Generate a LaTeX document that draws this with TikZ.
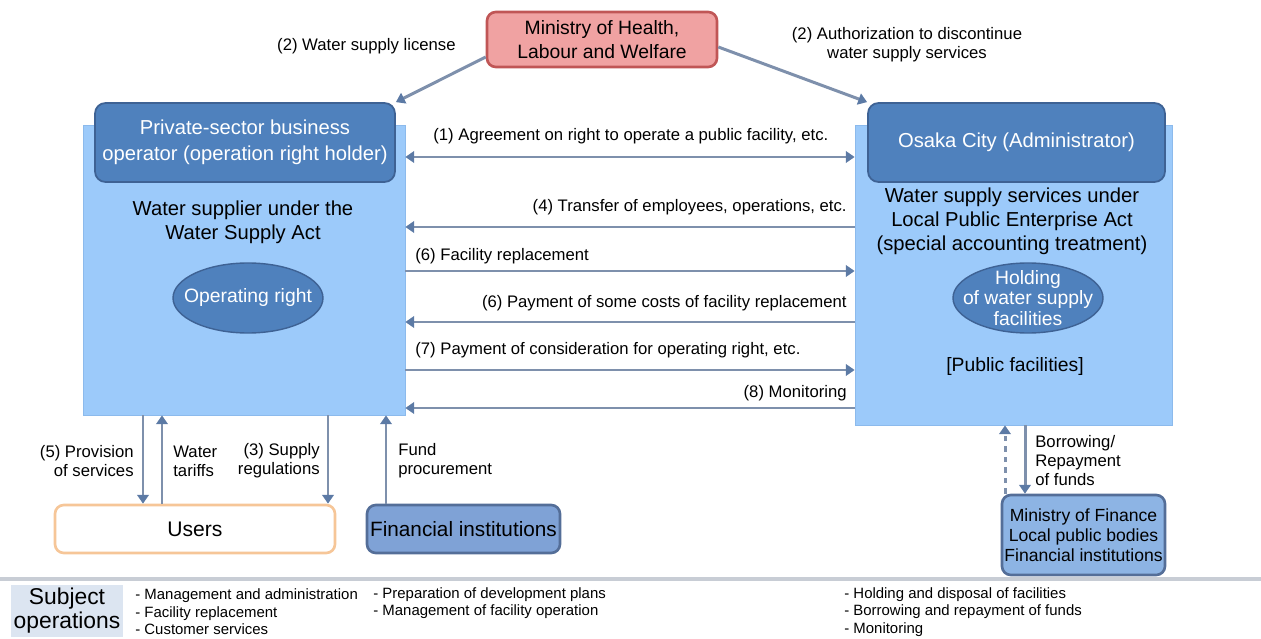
\documentclass[tikz,border=0pt]{standalone}
\usepackage{fontspec}
\setmainfont{Liberation Sans}
\usetikzlibrary{arrows.meta,shapes.geometric,positioning}
\definecolor{linec}{RGB}{126,144,172}
\definecolor{tipc}{RGB}{92,122,165}
\definecolor{boxfill}{RGB}{156,202,250}
\definecolor{boxline}{RGB}{140,186,236}
\definecolor{headfill}{RGB}{79,129,189}
\definecolor{headline}{RGB}{62,98,148}
\definecolor{mhlwfill}{RGB}{240,162,162}
\definecolor{mhlwline}{RGB}{192,86,86}
\definecolor{userline}{RGB}{246,198,152}
\definecolor{finfill}{RGB}{127,162,214}
\definecolor{mofill}{RGB}{141,180,228}
\definecolor{finline}{RGB}{84,110,152}
\definecolor{subjfill}{RGB}{220,229,241}
\definecolor{sepc}{RGB}{200,205,213}
\begin{document}
\begin{tikzpicture}[x=0.2mm,y=-0.2mm,
  conn/.style={draw=linec,line width=1.7pt,-{Triangle[width=6.5pt,length=5pt,color=tipc]}},
  both/.style={draw=linec,line width=1.7pt,{Triangle[width=6.5pt,length=5pt,color=tipc]}-{Triangle[width=6.5pt,length=5pt,color=tipc]}},
  lbl/.style={inner sep=0pt,font=\fontsize{9.5}{10.8}\selectfont},
  bigbox/.style={draw=boxline,fill=boxfill,inner sep=0pt},
  head/.style={draw=headline,fill=headfill,rounded corners=6pt,line width=1pt,text=white,align=center,inner sep=0pt,font=\fontsize{11.5}{14.5}\selectfont},
  oval/.style={ellipse,draw=headline,fill=headfill,line width=0.8pt,inner sep=0pt},
  ovaltext/.style={text=white,align=center,inner sep=0pt,font=\fontsize{11}{11.6}\selectfont},
  body/.style={align=center,inner sep=0pt,font=\fontsize{11.5}{13.7}\selectfont},
  endbox/.style={rounded corners=5pt,line width=1.5pt,inner sep=0pt,align=center},
  lst/.style={inner sep=0pt,align=left,font=\fontsize{8.5}{10}\selectfont}
]
\useasboundingbox (0,0) rectangle (1261,639);

\node[endbox,draw=mhlwline,fill=mhlwfill,minimum width=46mm,minimum height=11mm,font=\fontsize{11}{13.7}\selectfont] (mhlw) at (602,39.5) {Ministry of Health,\\Labour and Welfare};

\node[bigbox,minimum width=64.4mm,minimum height=58mm] (lbox) at (244,270) {};
\node[head,minimum width=60mm,minimum height=15.8mm] (lhead) at (245,142.5) {Private-sector business\\operator (operation right holder)};
\node[body] (ltext) at (243,222) {Water supplier under the\\Water Supply Act};
\node[oval,minimum width=30mm,minimum height=14mm] (opright) at (248,298) {};
\node[ovaltext] at (opright) {Operating right};

\node[bigbox,minimum width=63.4mm,minimum height=60mm] (rbox) at (1013.5,275) {};
\node[head,minimum width=59.4mm,minimum height=15.8mm] (rhead) at (1016.5,142.5) {Osaka City (Administrator)};
\node[body] (rtext) at (1012,221) {Water supply services under\\Local Public Enterprise Act\\(special accounting treatment)};
\node[oval,minimum width=30mm,minimum height=14mm] (holding) at (1028,298) {};
\node[ovaltext] at (holding) {Holding\\of water supply\\facilities};
\node[body,font=\fontsize{11}{13}\selectfont] (pubfac) at (1015,367) {[Public facilities]};

\node[endbox,draw=userline,fill=white,minimum width=56mm,minimum height=9.6mm,font=\fontsize{12}{14}\selectfont] (users) at (195,529) {Users};
\node[endbox,draw=finline,fill=finfill,minimum width=38.6mm,minimum height=9.6mm,font=\fontsize{11.8}{14}\selectfont] (fininst) at (463.5,529) {Financial institutions};
\node[endbox,draw=finline,fill=mofill,minimum width=32.6mm,minimum height=16mm,font=\fontsize{10}{11.4}\selectfont] (mof) at (1083.5,535) {Ministry of Finance\\Local public bodies\\Financial institutions};

\draw[conn] (mhlw.west |- 0,57) -- (lhead.north east);
\draw[conn] (mhlw.east |- 0,47) -- (rhead.north west);

\draw[both] (lbox.east |- 0,157) -- (rbox.west |- 0,157);
\draw[conn] (rbox.west |- 0,227) -- (lbox.east |- 0,227);
\draw[conn] (lbox.east |- 0,271) -- (rbox.west |- 0,271);
\draw[conn] (rbox.west |- 0,322) -- (lbox.east |- 0,322);
\draw[conn] (lbox.east |- 0,370) -- (rbox.west |- 0,370);
\draw[conn] (rbox.west |- 0,408) -- (lbox.east |- 0,408);

\draw[conn] (lbox.south -| 143,0) -- (users.north -| 143,0);
\draw[conn] (users.north -| 162,0) -- (lbox.south -| 162,0);
\draw[conn] (lbox.south -| 328,0) -- (users.north -| 328,0);
\draw[conn] (fininst.north -| 386,0) -- (lbox.south -| 386,0);
\draw[conn,dashed] (mof.north -| 1005,0) -- (rbox.south -| 1005,0);
\draw[conn] (rbox.south -| 1025,0) -- (mof.north -| 1025,0);

\node[lbl,anchor=east] (liclbl) at (456,46) {(2) Water supply license};
\node[lbl,align=center] (authlbl) at (907,45) {(2) Authorization to discontinue\\water supply services};
\node[lbl,anchor=west] (agrlbl) at (433,136) {(1) Agreement on right to operate a public facility, etc.};
\node[lbl,anchor=east] (trlbl) at (847,207) {(4) Transfer of employees, operations, etc.};
\node[lbl,anchor=west] (replbl) at (415,256) {(6) Facility replacement};
\node[lbl,anchor=east] (costlbl) at (847,303) {(6) Payment of some costs of facility replacement};
\node[lbl,anchor=west] (paylbl) at (415,350) {(7) Payment of consideration for operating right, etc.};
\node[lbl,anchor=east] (monlbl) at (847,393) {(8) Monitoring};
\node[lbl,anchor=east,align=right] (provlbl) at (134,461) {(5) Provision\\of services};
\node[lbl,anchor=west,align=left] (tarlbl) at (173,461) {Water\\tariffs};
\node[lbl,anchor=east,align=right] (reglbl) at (320,461) {(3) Supply\\regulations};
\node[lbl,anchor=west,align=left] (fundlbl) at (398,461) {Fund\\procurement};
\node[lbl,anchor=west,align=left] (borlbl) at (1035,461) {Borrowing/\\Repayment\\of funds};

\draw[sepc,line width=2.3pt] (0,579) -- (1261,579);
\node[fill=subjfill,inner sep=0pt,minimum width=22.4mm,minimum height=10.4mm,align=center,font=\fontsize{13}{13.7}\selectfont] (subj) at (67,611) {Subject\\operations};
\node[lst,anchor=west] (ops1) at (135,612) {- Management and administration\\- Facility replacement\\- Customer services};
\node[lst,anchor=west] (ops2) at (373,603) {- Preparation of development plans\\- Management of facility operation};
\node[lst,anchor=west] (ops3) at (844,612) {- Holding and disposal of facilities\\- Borrowing and repayment of funds\\- Monitoring};
\end{tikzpicture}
\end{document}
